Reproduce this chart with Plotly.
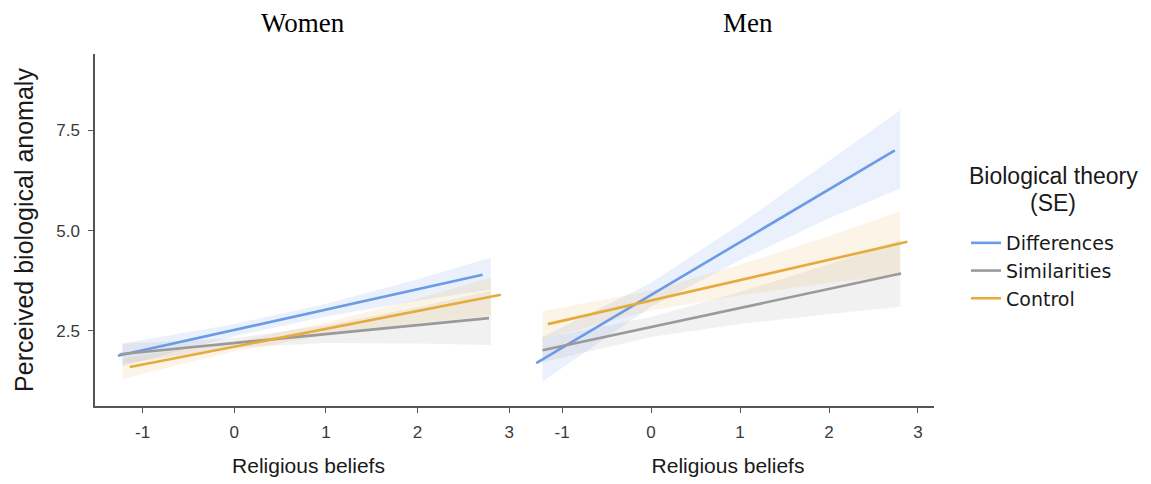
import plotly.graph_objects as go

# Fitted regression lines: religious beliefs (x) vs perceived biological anomaly (y)
groups = ["Differences", "Similarities", "Control"]
line_colors = {"Differences": "#6A9BE6", "Similarities": "#9A9A9A", "Control": "#E6AB3E"}
band_colors = {"Differences": "rgba(110,155,235,0.14)",
               "Similarities": "rgba(150,150,150,0.13)",
               "Control": "rgba(232,172,62,0.13)"}

# Women panel
women_diff_x = [-1.27, 2.71]
women_diff_y = [1.88, 3.90]
women_sim_x = [-1.25, 2.78]
women_sim_y = [1.92, 2.82]
women_ctrl_x = [-1.14, 2.91]
women_ctrl_y = [1.60, 3.40]

# Men panel
men_diff_x = [-1.29, 2.74]
men_diff_y = [1.70, 7.00]
men_sim_x = [-1.22, 2.81]
men_sim_y = [2.02, 3.93]
men_ctrl_x = [-1.16, 2.88]
men_ctrl_y = [2.67, 4.72]

# Standard-error ribbons (lower / upper) at these religious-belief values
band_x = [-1.22, 0, 1, 2, 2.8]
women_diff_lo = [1.62, 2.37, 2.86, 3.25, 3.53]
women_diff_hi = [2.19, 2.67, 3.18, 3.79, 4.33]
women_sim_lo = [1.68, 2.08, 2.20, 2.19, 2.15]
women_sim_hi = [2.18, 2.32, 2.64, 3.09, 3.50]
women_ctrl_lo = [1.31, 1.99, 2.39, 2.70, 2.88]
women_ctrl_hi = [1.81, 2.23, 2.71, 3.30, 3.83]
men_diff_lo = [1.24, 3.10, 4.26, 5.31, 6.05]
men_diff_hi = [2.35, 3.70, 5.16, 6.75, 8.00]
men_sim_lo = [1.72, 2.35, 2.67, 2.92, 3.10]
men_sim_hi = [2.32, 2.85, 3.47, 4.16, 4.76]
men_ctrl_lo = [2.29, 3.01, 3.39, 3.70, 3.88]
men_ctrl_hi = [2.99, 3.51, 4.15, 4.86, 5.48]

x_ticks = [-1, 0, 1, 2, 3]
x_ticktext = ["-1", "0", "1", "2", "3"]
y_ticks = [2.5, 5.0, 7.5]
y_ticktext = ["2.5", "5.0", "7.5"]

panels = [
    ("x", "y", {
        "Differences": (women_diff_x, women_diff_y, women_diff_lo, women_diff_hi),
        "Similarities": (women_sim_x, women_sim_y, women_sim_lo, women_sim_hi),
        "Control": (women_ctrl_x, women_ctrl_y, women_ctrl_lo, women_ctrl_hi),
    }),
    ("x2", "y2", {
        "Differences": (men_diff_x, men_diff_y, men_diff_lo, men_diff_hi),
        "Similarities": (men_sim_x, men_sim_y, men_sim_lo, men_sim_hi),
        "Control": (men_ctrl_x, men_ctrl_y, men_ctrl_lo, men_ctrl_hi),
    }),
]

fig = go.Figure()

# ribbons first so that the lines sit on top
for xa, ya, data in panels:
    for g in groups:
        _, _, lo, hi = data[g]
        fig.add_trace(go.Scatter(
            x=band_x + band_x[::-1], y=hi + lo[::-1],
            fill="toself", fillcolor=band_colors[g], mode="lines",
            line=dict(width=0), xaxis=xa, yaxis=ya,
            showlegend=False, hoverinfo="skip"))

for i, (xa, ya, data) in enumerate(panels):
    for g in groups:
        gx, gy, _, _ = data[g]
        fig.add_trace(go.Scatter(
            x=gx, y=gy, mode="lines", name=g,
            line=dict(color=line_colors[g], width=2.6),
            xaxis=xa, yaxis=ya, showlegend=(i == 0)))

W, H = 1151, 484
x1_dom = [95 / W, 522 / W]
x2_dom = [522 / W, 934 / W]
y_dom = [1 - 406 / H, 1 - 54 / H]

sans = "Liberation Sans, Arial, sans-serif"
serif = "Liberation Serif, Times New Roman, serif"
tick_font = dict(family=sans, size=17, color="#3a3a3a")
axis_title_font = dict(family=sans, size=21, color="#1a1a1a")

common_x = dict(tickvals=x_ticks, ticktext=x_ticktext, ticks="outside", ticklen=5,
                tickwidth=1.2, tickcolor="#555555", showline=True, linecolor="#555555",
                linewidth=1.5, showgrid=False, zeroline=False, tickfont=tick_font,
                ticklabelstandoff=5,
                title=dict(text="Religious beliefs", font=axis_title_font, standoff=17))

fig.update_layout(
    width=W, height=H,
    margin=dict(l=0, r=0, t=0, b=0),
    paper_bgcolor="white", plot_bgcolor="white",
    xaxis=dict(domain=x1_dom, range=[-1.52, 3.14], anchor="y", **common_x),
    xaxis2=dict(domain=x2_dom, range=[-1.45, 3.18], anchor="y2", **common_x),
    yaxis=dict(domain=y_dom, range=[0.63, 9.4], anchor="x", tickvals=y_ticks,
               ticktext=y_ticktext, ticks="outside", ticklen=5, tickwidth=1.2,
               tickcolor="#555555", showline=True, linecolor="#555555", linewidth=1.5,
               showgrid=False, zeroline=False, tickfont=tick_font, ticklabelstandoff=5,
               title=dict(text="Perceived biological anomaly",
                          font=dict(family=sans, size=25, color="#1a1a1a"),
                          standoff=15)),
    yaxis2=dict(domain=y_dom, range=[0.63, 9.4], anchor="x2", showline=False,
                showticklabels=False, ticks="", showgrid=False, zeroline=False),
    legend=dict(
        x=966 / W, y=1 - 224 / H, xanchor="left", yanchor="top",
        font=dict(family="DejaVu Sans, sans-serif", size=19, color="#1a1a1a"),
        bgcolor="rgba(0,0,0,0)", tracegroupgap=0, itemwidth=30,
    ),
    showlegend=True,
    hovermode=False,
    annotations=[
        dict(text="Women", x=303 / W, y=1 - 23 / H, xref="paper", yref="paper",
             showarrow=False, xanchor="center", yanchor="middle",
             font=dict(family=serif, size=27, color="#000000")),
        dict(text="Men", x=748 / W, y=1 - 23 / H, xref="paper", yref="paper",
             showarrow=False, xanchor="center", yanchor="middle",
             font=dict(family=serif, size=27, color="#000000")),
        dict(text="Biological theory", x=1053 / W, y=1 - 176 / H, xref="paper",
             yref="paper", showarrow=False, xanchor="center", yanchor="middle",
             font=dict(family=sans, size=23, color="#1a1a1a")),
        dict(text="(SE)", x=1053 / W, y=1 - 203 / H, xref="paper",
             yref="paper", showarrow=False, xanchor="center", yanchor="middle",
             font=dict(family=sans, size=23, color="#1a1a1a")),
    ],
)

fig.write_html("out.html")
